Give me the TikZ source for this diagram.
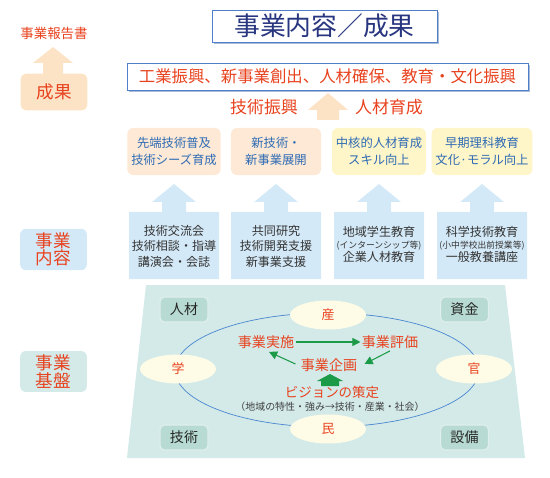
\documentclass[tikz,border=0pt]{standalone}
\usepackage{fontspec}
\setmainfont{Noto Sans CJK JP}
\usetikzlibrary{calc,shapes.geometric,arrows.meta,shadows}
\definecolor{hred}{HTML}{E8421E}
\definecolor{navy}{HTML}{28357F}
\definecolor{tblue}{HTML}{2E6BB4}
\definecolor{frameblue}{HTML}{4F7FC8}
\definecolor{shade}{HTML}{A9BCD8}
\definecolor{peach}{HTML}{FDE3C6}
\definecolor{peachlt}{HTML}{FDE9D5}
\definecolor{creamy}{HTML}{FEF5C8}
\definecolor{skyblue}{HTML}{D4E9F7}
\definecolor{teal}{HTML}{D3EAE9}
\definecolor{tealdk}{HTML}{B7DBD2}
\definecolor{egg}{HTML}{FEFBE7}
\definecolor{ringblue}{HTML}{4A86D0}
\definecolor{ggreen}{HTML}{1B9A48}
\newcommand{\upbox}[3]{% left, centre, right
  \fill[skyblue] (#1,212) -- ({#2-12},212) -- ({#2-12},202) -- ({#2-22},202) -- (#2,184)
    -- ({#2+22},202) -- ({#2+12},202) -- ({#2+12},212) -- (#3,212) -- (#3,279) -- (#1,279) -- cycle;}

\begin{document}
\begin{tikzpicture}[x=0.03cm,y=-0.03cm]
       \tikzstyle{frame} = [rectangle, draw=frameblue, line width=0.8pt, fill=white,
         drop shadow={fill=shade, opacity=1, shadow xshift=0.05cm, shadow yshift=-0.05cm}];
       \tikzstyle{side} = [rectangle, rounded corners=5pt, minimum width=2.0cm, minimum height=1.1cm,
         text=hred, align=center, font=\fontsize{15}{13.5}\selectfont];
       \tikzstyle{goal} = [rectangle, rounded corners=5pt, minimum width=2.7cm, minimum height=1.41cm,
         text=tblue, align=center, font=\fontsize{10.5}{14.5}\selectfont];
       \tikzstyle{work} = [text=black!80, align=center, font=\fontsize{10.3}{13.2}\selectfont];
       \tikzstyle{corner} = [rectangle, rounded corners=4pt, fill=tealdk, draw=white!55!tealdk, line width=1pt,
         minimum width=1.44cm, minimum height=0.75cm, text=black!85, font=\fontsize{12}{14}\selectfont];
       \tikzstyle{actor} = [ellipse, fill=egg, minimum width=2.28cm, minimum height=0.87cm, inner sep=0pt,
         text=hred, font=\fontsize{11}{13}\selectfont];
       \tikzstyle{redtxt} = [text=hred, inner sep=1pt, font=\fontsize{12}{14}\selectfont];
       \tikzstyle{garrow} = [draw=ggreen, line width=0.9pt, -{Triangle[length=7pt,width=7pt]}];
       \useasboundingbox (0,0) rectangle (550,478);

       % top
       \node[frame, minimum width=6.75cm, minimum height=0.96cm, text=navy,
         font=\fontsize{22}{24}\selectfont] (title) at (324.5,26) {事業内容／成果};
       \node[frame, minimum width=12.03cm, minimum height=0.81cm, text=hred,
         font=\fontsize{14}{16}\selectfont] (results) at (327.5,76.5) {工業振興、新事業創出、人材確保、教育・文化振興};
       \node[text=hred, font=\fontsize{11.5}{13}\selectfont] (report) at (54,33) {事業報告書};
       \fill[peach] (43,74) -- (43,63) -- (33,63) -- (53,47) -- (73,63) -- (63,63) -- (63,74) -- cycle;
       \node[side, fill=peach] (seika) at (54,92) {成果};
       \fill[peach] (317,120) -- (317,110) -- (308,110) -- (328,93) -- (348,110) -- (339,110) -- (339,120) -- cycle;
       \node[text=hred, font=\fontsize{14.5}{16}\selectfont] (gijutsu) at (264,107) {技術振興};
       \node[text=hred, font=\fontsize{14.5}{16}\selectfont] (jinzai) at (389,107) {人材育成};

       % outcomes
       \node[goal, fill=peachlt] (senta) at (174,151.5) {先端技術普及\\技術シーズ育成};
       \node[goal, fill=peachlt] (shingi) at (276,151.5) {新技術・\\新事業展開};
       \node[goal, fill=creamy] (chukaku) at (379,151.5) {中核的人材育成\\スキル向上};
       \node[goal, fill=creamy] (souki) at (482,151.5) {早期理科教育\\文化·モラル向上};

       % activities
       \upbox{129}{174}{219}
       \upbox{231}{276}{321}
       \upbox{334}{379}{424}
       \upbox{437}{482}{527}
       \node[work] (kouryu) at (174,246) {技術交流会\\技術相談・指導\\講演会・会誌};
       \node[work] (kyoudou) at (276,246) {共同研究\\技術開発支援\\新事業支援};
       \node[work] (chiiki) at (379,244) {地域学生教育\\[-3pt]{\fontsize{7.5}{8}\selectfont (インターンシップ等)}\\[-2pt]企業人材教育};
       \node[work] (kagaku) at (482,244) {科学技術教育\\[-3pt]{\fontsize{7.5}{8}\selectfont (小中学校出前授業等)}\\[-2pt]一般教養講座};
       \node[side, fill=skyblue] (naiyou) at (53.5,249.5) {事業\\内容};

       % base
       \fill[teal] (146,285) -- (505,285) -- (525,458) -- (127,458) -- cycle;
       \node[side, fill=teal] (kiban) at (53.5,371.5) {事業\\基盤};
       \node[corner] (hito) at (184,309.5) {人材};
       \node[corner] (shikin) at (464.5,309.5) {資金};
       \node[corner] (waza) at (184,437.5) {技術};
       \node[corner] (setsubi) at (464.5,437.5) {設備};
       \draw[ringblue, line width=0.6pt] (327,370) ellipse [x radius=152, y radius=57];
       \node[actor] (san) at (328,315) {産};
       \node[actor] (min) at (328,429) {民};
       \node[actor] (gaku) at (178,369) {学};
       \node[actor] (kan) at (474,369) {官};

       % cycle
       \node[redtxt] (jisshi) at (266,342) {事業実施};
       \node[redtxt] (hyouka) at (390,342) {事業評価};
       \node[redtxt] (kikaku) at (329,365) {事業企画};
       \draw[garrow] (jisshi.east) -- (hyouka.west);
       \draw[garrow] ($(hyouka.south)+(0,1)$) -- ($(kikaku.east)+(6,-1)$);
       \draw[garrow] ($(kikaku.west)+(-4,-1)$) -- ($(jisshi.south)+(3,2)$);
       \fill[ggreen] (330,374) -- (343,381) -- (339,381) -- (339,386) -- (321,386) -- (321,381) -- (317,381) -- cycle;
       \node[text=hred, font=\fontsize{11.5}{13}\selectfont] (vision) at (332,392) {ビジョンの策定};
       \node[text=black!75, font=\fontsize{8.5}{10}\selectfont] (note) at (330,407) {（地域の特性・強み→技術・産業・社会）};
\end{tikzpicture}
\end{document}
